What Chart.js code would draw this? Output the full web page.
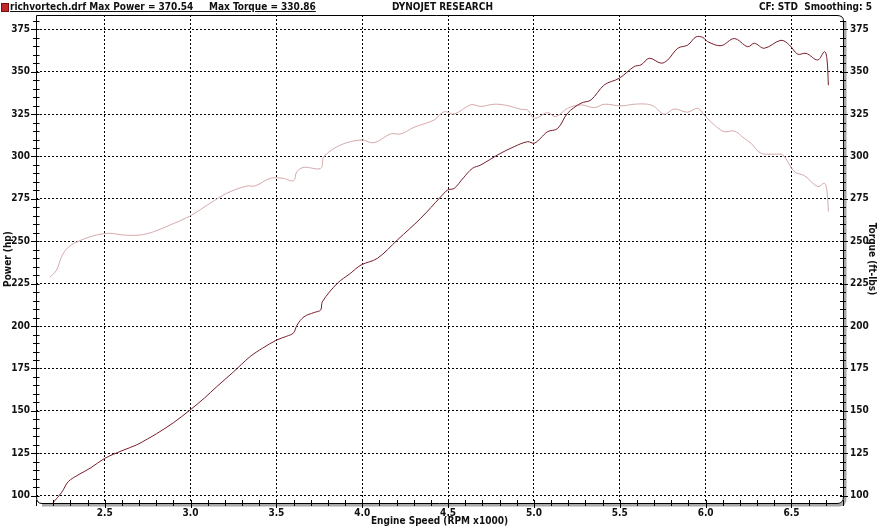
<!DOCTYPE html>
<html>
<head>
<meta charset="utf-8">
<script src="https://cdn.jsdelivr.net/npm/chart.js@4/dist/chart.umd.min.js"></script>
<style>
  html, body { margin: 0; padding: 0; background: #fff; }
  #wrap { position: relative; width: 878px; height: 528px; overflow: hidden; }
  canvas { position: absolute; left: 0; top: 0; }
  .hdr { position: absolute; top: 1px; font: bold 10px 'DejaVu Sans Condensed', 'DejaVu Sans', sans-serif; color: #111; white-space: pre; line-height: 12px; }
  .icon { position: absolute; left: 1px; top: 3px; width: 6px; height: 7px; background: #c0282c; border: 1px solid #7a1010; }
</style>
</head>
<body>
<div id="wrap">
  <canvas id="c" width="878" height="528"></canvas>
  <div class="icon"></div>
  <div class="hdr" style="left:10px;text-decoration:underline;">richvortech.drf Max Power = 370.54     Max Torque = 330.86</div>
  <div class="hdr" style="left:392px;">DYNOJET RESEARCH</div>
  <div class="hdr" style="right:6px;">CF: STD  Smoothing: 5</div>
</div>
<script>
// ---- data ----
const powerRpm = [2.20,2.25,2.288,2.35,2.42,2.50,2.60,2.687,2.75,2.803,2.90,2.997,3.08,3.153,3.25,3.347,3.42,3.502,3.56,3.60,3.62,3.661,3.72,3.758,3.768,3.855,3.93,3.993,4.089,4.205,4.341,4.458,4.497,4.536,4.59,4.642,4.691,4.788,4.885,4.963,5.002,5.041,5.079,5.138,5.196,5.274,5.332,5.41,5.497,5.584,5.624,5.672,5.741,5.779,5.838,5.896,5.944,5.983,6.012,6.09,6.167,6.245,6.284,6.342,6.439,6.488,6.536,6.585,6.653,6.692,6.706,6.715];
const powerHp = [96,102,108.3,112.5,116.5,122,126.5,130,133.5,136.6,143,150.5,157.5,164.3,173,182,187,191.8,194,196,200.5,205.5,208,209.5,214.4,225.2,231,236,240,250.8,263.6,276.3,280.2,281.2,287.5,293,295,300.9,305.8,308.7,307.8,311,314.6,316.5,325.5,331.4,333.3,342.2,346.1,353,354,357.9,355,356.9,363.8,365.7,370.5,370.2,367.7,365.3,369.5,364.7,366.7,363.8,368.5,365.7,360.3,360.8,356.9,361.8,357.9,342];
const torqueRpm = [2.181,2.22,2.249,2.288,2.356,2.453,2.531,2.609,2.706,2.784,2.881,2.997,3.114,3.211,3.328,3.376,3.464,3.54,3.60,3.619,3.661,3.758,3.777,3.875,3.993,4.069,4.166,4.225,4.302,4.419,4.477,4.536,4.633,4.691,4.769,4.847,4.924,4.963,5.002,5.079,5.128,5.196,5.274,5.352,5.41,5.507,5.584,5.662,5.701,5.759,5.817,5.894,5.953,5.991,6.05,6.108,6.167,6.225,6.264,6.322,6.40,6.449,6.517,6.575,6.653,6.692,6.707,6.715];
const torqueFtlb = [228.8,233,240.9,246.5,250.4,253.7,254.7,253.7,253.7,255.6,259.6,264.9,272.4,278.3,282.6,282.6,287.1,287.1,285.7,291,293.6,293,299.9,306.8,309.7,308.1,313.3,313.3,317.2,321.5,326.4,325,330.5,329.5,330.8,330,327.8,327.4,322.5,325.8,323.5,328.4,330.4,328.8,330.8,329.8,330.8,330.8,329.4,324.9,328,326.1,328.4,324.5,318.6,314.6,315,310.7,307.8,301.9,301.3,300.9,291,288.7,282.2,284.2,279.2,267.5];
const xMajorLabels = ['2.5','3.0','3.5','4.0','4.5','5.0','5.5','6.0','6.5'];
const yMajorLabels = ['100','125','150','175','200','225','250','275','300','325','350','375'];

const X_MIN = 2.1, X_MAX = 6.8, Y_MIN = 95.7, Y_MAX = 383.4;
const FONT = "'DejaVu Sans Condensed', 'DejaVu Sans', sans-serif";

const xMajor = xMajorLabels.map(Number);
const yMajor = yMajorLabels.map(Number);
const xTicks = []; for (let i = 21; i <= 68; i++) xTicks.push(i / 10);
const yTicks = []; for (let v = 100; v <= 380; v += 5) yTicks.push(v);

const isXMajor = v => xMajor.some(m => Math.abs(m - v) < 1e-6);
const isYMajor = v => yMajor.includes(v);

const frame = {
  id: 'frame',
  beforeDraw(chart) {
    const {ctx} = chart;
    ctx.save();
    ctx.fillStyle = '#fff';
    ctx.fillRect(0, 0, chart.width, chart.height);
    ctx.restore();
  },
  afterDraw(chart) {
    const {ctx, chartArea: a} = chart;
    const r = 6;
    ctx.save();
    ctx.strokeStyle = '#a8a8a8';
    ctx.lineWidth = 3;
    ctx.beginPath();
    ctx.moveTo(a.right + 2, a.top + 6);
    ctx.lineTo(a.right + 2, a.bottom + 2 - r);
    ctx.quadraticCurveTo(a.right + 2, a.bottom + 2, a.right + 2 - r, a.bottom + 2);
    ctx.lineTo(a.left + 6, a.bottom + 2);
    ctx.stroke();
    ctx.strokeStyle = '#000';
    ctx.lineWidth = 1;
    ctx.beginPath();
    ctx.moveTo(a.left + 0.5, a.top + 0.5);
    ctx.lineTo(a.right - r, a.top + 0.5);
    ctx.quadraticCurveTo(a.right + 0.5, a.top + 0.5, a.right + 0.5, a.top + r);
    ctx.lineTo(a.right + 0.5, a.bottom - r);
    ctx.quadraticCurveTo(a.right + 0.5, a.bottom + 0.5, a.right - r, a.bottom + 0.5);
    ctx.lineTo(a.left + r, a.bottom + 0.5);
    ctx.quadraticCurveTo(a.left + 0.5, a.bottom + 0.5, a.left + 0.5, a.bottom - r);
    ctx.lineTo(a.left + 0.5, a.top + 0.5);
    ctx.stroke();
    const xs = chart.scales.x, yl = chart.scales.y;
    ctx.beginPath();
    yTicks.forEach(v => {
      const py = Math.round(yl.getPixelForValue(v)) + 0.5;
      const L = isYMajor(v) ? 5 : 3;
      ctx.moveTo(a.left - L, py); ctx.lineTo(a.left + 3.5, py);
      ctx.moveTo(a.right - 3, py); ctx.lineTo(a.right + L, py);
    });
    xTicks.forEach(v => {
      const px = Math.round(xs.getPixelForValue(v)) + 0.5;
      const L = isXMajor(v) ? 5 : 3;
      ctx.moveTo(px, a.bottom - 3); ctx.lineTo(px, a.bottom + L);
    });
    ctx.stroke();
    ctx.restore();
  }
};

const labelFont = { family: FONT, size: 10, weight: 'bold' };

new Chart(document.getElementById('c'), {
  type: 'line',
  data: {
    datasets: [
      {
        label: 'Power (hp)',
        data: powerRpm.map((r, i) => ({x: r, y: powerHp[i]})),
        borderColor: '#7a1e2a',
        borderWidth: 1,
        pointRadius: 0,
        tension: 0.35,
        yAxisID: 'y',
      },
      {
        label: 'Torque (ft-lbs)',
        data: torqueRpm.map((r, i) => ({x: r, y: torqueFtlb[i]})),
        borderColor: '#d6aaac',
        borderWidth: 1,
        pointRadius: 0,
        tension: 0.35,
        yAxisID: 'y2',
      }
    ]
  },
  options: {
    responsive: false,
    animation: false,
    devicePixelRatio: 1,
    layout: { padding: { top: 15, left: 0, right: 0, bottom: 0 } },
    plugins: { legend: { display: false }, tooltip: { enabled: false } },
    scales: {
      x: {
        type: 'linear',
        min: X_MIN, max: X_MAX,
        afterBuildTicks: s => { s.ticks = xTicks.map(v => ({value: v})); },
        afterFit: s => { s.height = 25; },
        border: { display: false, dash: [2, 2] },
        grid: {
          drawTicks: false, lineWidth: 1,
          color: c => (c.tick && isXMajor(c.tick.value)) ? '#000' : 'rgba(0,0,0,0)',
        },
        ticks: {
          autoSkip: false, maxRotation: 0, padding: 4,
          color: '#111', font: labelFont,
          callback: v => isXMajor(v) ? v.toFixed(1) : ''
        },
        title: {
          display: true, text: 'Engine Speed (RPM x1000)',
          color: '#111', font: labelFont,
          padding: { top: 0, bottom: 1 }
        }
      },
      y: {
        type: 'linear', position: 'left',
        min: Y_MIN, max: Y_MAX,
        afterBuildTicks: s => { s.ticks = yTicks.map(v => ({value: v})); },
        afterFit: s => { s.width = 36; },
        border: { display: false, dash: [2, 2] },
        grid: {
          drawTicks: false, lineWidth: 1,
          color: c => (c.tick && isYMajor(c.tick.value)) ? '#000' : 'rgba(0,0,0,0)',
        },
        ticks: {
          autoSkip: false, padding: 6,
          color: '#111', font: labelFont,
          callback: v => isYMajor(v) ? String(v) : ''
        },
        title: {
          display: true, text: 'Power (hp)',
          color: '#111', font: labelFont,
          padding: { top: 2, bottom: 0 }
        }
      },
      y2: {
        type: 'linear', position: 'right',
        min: Y_MIN, max: Y_MAX,
        afterBuildTicks: s => { s.ticks = yTicks.map(v => ({value: v})); },
        afterFit: s => { s.width = 35; },
        border: { display: false },
        grid: { drawOnChartArea: false, drawTicks: false },
        ticks: {
          autoSkip: false, padding: 7,
          color: '#111', font: labelFont,
          callback: v => isYMajor(v) ? String(v) : ''
        },
        title: {
          display: true, text: 'Torque (ft-lbs)',
          color: '#111', font: labelFont,
          padding: { top: 0, bottom: 1 }
        }
      }
    }
  },
  plugins: [frame]
});
</script>
</body>
</html>
